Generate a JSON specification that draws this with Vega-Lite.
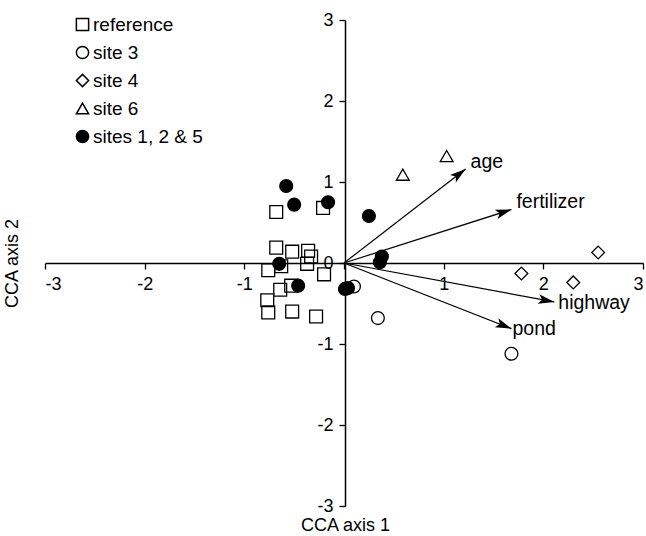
{
  "$schema": "https://vega.github.io/schema/vega-lite/v6.json",
  "width": 598,
  "height": 486,
  "autosize": "none",
  "padding": {"left": 45, "top": 20, "right": 3, "bottom": 30},
  "background": "white",
  "config": {
    "font": "Liberation Sans",
    "view": {"stroke": null},
    "axis": {"grid": false, "domainColor": "black", "domainWidth": 1.5, "tickColor": "black", "tickWidth": 1.3, "tickSize": 6, "labelColor": "black", "labelFontSize": 18, "titleColor": "black", "titleFontSize": 18, "titleFontWeight": "normal", "labelFont": "Liberation Sans", "titleFont": "Liberation Sans", "format": "d"}
  },
  "datasets": {
    "sites": [
      {"group": "reference", "x": -0.68, "y": 0.63},
      {"group": "reference", "x": -0.21, "y": 0.68},
      {"group": "reference", "x": -0.68, "y": 0.19},
      {"group": "reference", "x": -0.52, "y": 0.14},
      {"group": "reference", "x": -0.36, "y": 0.15},
      {"group": "reference", "x": -0.33, "y": 0.08},
      {"group": "reference", "x": -0.37, "y": -0.01},
      {"group": "reference", "x": -0.63, "y": -0.04},
      {"group": "reference", "x": -0.76, "y": -0.09},
      {"group": "reference", "x": -0.20, "y": -0.14},
      {"group": "reference", "x": -0.64, "y": -0.33},
      {"group": "reference", "x": -0.53, "y": -0.28},
      {"group": "reference", "x": -0.77, "y": -0.46},
      {"group": "reference", "x": -0.76, "y": -0.61},
      {"group": "reference", "x": -0.52, "y": -0.60},
      {"group": "reference", "x": -0.28, "y": -0.66},
      {"group": "site 3", "x": 0.10, "y": -0.29},
      {"group": "site 3", "x": 0.34, "y": -0.68},
      {"group": "site 3", "x": 1.68, "y": -1.12},
      {"group": "site 4", "x": 1.78, "y": -0.13},
      {"group": "site 4", "x": 2.30, "y": -0.24},
      {"group": "site 4", "x": 2.55, "y": 0.13},
      {"group": "site 6", "x": 1.03, "y": 1.32},
      {"group": "site 6", "x": 0.59, "y": 1.09},
      {"group": "sites 1, 2 & 5", "x": -0.58, "y": 0.95},
      {"group": "sites 1, 2 & 5", "x": -0.50, "y": 0.72},
      {"group": "sites 1, 2 & 5", "x": -0.16, "y": 0.75},
      {"group": "sites 1, 2 & 5", "x": 0.25, "y": 0.58},
      {"group": "sites 1, 2 & 5", "x": -0.65, "y": -0.01},
      {"group": "sites 1, 2 & 5", "x": -0.46, "y": -0.28},
      {"group": "sites 1, 2 & 5", "x": 0.01, "y": -0.32},
      {"group": "sites 1, 2 & 5", "x": 0.04, "y": -0.31},
      {"group": "sites 1, 2 & 5", "x": 0.38, "y": 0.08},
      {"group": "sites 1, 2 & 5", "x": 0.36, "y": 0.01}
    ],
    "vectors": [
      {"variable": "age", "x": 1.22, "y": 1.16, "lx": 1.27, "ly": 1.25},
      {"variable": "fertilizer", "x": 1.68, "y": 0.66, "lx": 1.73, "ly": 0.75},
      {"variable": "highway", "x": 2.11, "y": -0.48, "lx": 2.15, "ly": -0.49},
      {"variable": "pond", "x": 1.68, "y": -0.81, "lx": 1.69, "ly": -0.81}
    ]
  },
  "layer": [
    {
      "data": {"name": "vectors"},
      "mark": {"type": "rule", "color": "black", "strokeWidth": 1.2},
      "encoding": {
        "x": {"field": "x", "type": "quantitative", "scale": {"domain": [-3, 3], "nice": false, "zero": false},
          "axis": {"orient": "bottom", "offset": -243, "values": [-3, -2, -1, 0, 1, 2, 3], "labelExpr": "datum.value == 0 ? '' : replace(datum.label, '−', '-')", "labelPadding": 6, "title": "CCA axis 1", "titleX": 300, "titleY": 262, "titleBaseline": "middle"}},
        "y": {"field": "y", "type": "quantitative", "scale": {"domain": [-3, 3], "nice": false, "zero": false},
          "axis": {"orient": "left", "offset": -300, "values": [-3, -2, -1, 0, 1, 2, 3], "labelExpr": "replace(datum.label, '−', '-')", "labelPadding": 6, "title": "CCA axis 2", "titleX": -333, "titleY": 243, "titleBaseline": "middle", "titleAngle": -90}},
        "x2": {"datum": 0},
        "y2": {"datum": 0}
      }
    },
    {
      "data": {"name": "vectors"},
      "transform": [{"calculate": "atan2(datum.x * 100, datum.y * 81) * 180 / PI", "as": "angle"}],
      "mark": {"type": "point", "shape": "M0,0L-0.6,2L0,1.55L0.6,2Z", "filled": true, "color": "black", "size": 256, "opacity": 1},
      "encoding": {
        "x": {"field": "x", "type": "quantitative"},
        "y": {"field": "y", "type": "quantitative"},
        "angle": {"field": "angle", "type": "quantitative", "scale": null}
      }
    },
    {
      "data": {"name": "vectors"},
      "mark": {"type": "text", "align": "left", "baseline": "middle", "fontSize": 19.5, "font": "Liberation Sans", "color": "black"},
      "encoding": {
        "x": {"field": "lx", "type": "quantitative"},
        "y": {"field": "ly", "type": "quantitative"},
        "text": {"field": "variable"}
      }
    },
    {
      "data": {"name": "sites"},
      "mark": {"type": "point", "stroke": "black", "strokeWidth": 1.3, "opacity": 1, "size": 165},
      "encoding": {
        "x": {"field": "x", "type": "quantitative"},
        "y": {"field": "y", "type": "quantitative"},
        "shape": {"field": "group", "type": "nominal",
          "scale": {"domain": ["reference", "site 3", "site 4", "site 6", "sites 1, 2 & 5"], "range": ["square", "circle", "diamond", "triangle-up", "circle"]},
          "legend": {"orient": "none", "legendX": 28, "legendY": -5, "title": null, "labelFontSize": 19, "labelFont": "Liberation Sans", "labelColor": "black", "symbolSize": 150, "rowPadding": 8, "labelOffset": 1,
            "encode": {"symbols": {"update": {"stroke": {"value": "black"}, "strokeWidth": {"value": 1.3}, "opacity": {"value": 1}}}}}},
        "fill": {"field": "group", "type": "nominal",
          "scale": {"domain": ["reference", "site 3", "site 4", "site 6", "sites 1, 2 & 5"], "range": ["transparent", "transparent", "transparent", "transparent", "black"]},
          "legend": {"orient": "none", "legendX": 28, "legendY": -5, "title": null, "labelFontSize": 19, "labelFont": "Liberation Sans", "labelColor": "black", "symbolSize": 150, "rowPadding": 8, "labelOffset": 1,
            "encode": {"symbols": {"update": {"stroke": {"value": "black"}, "strokeWidth": {"value": 1.3}, "opacity": {"value": 1}}}}}}
      }
    }
  ]
}
